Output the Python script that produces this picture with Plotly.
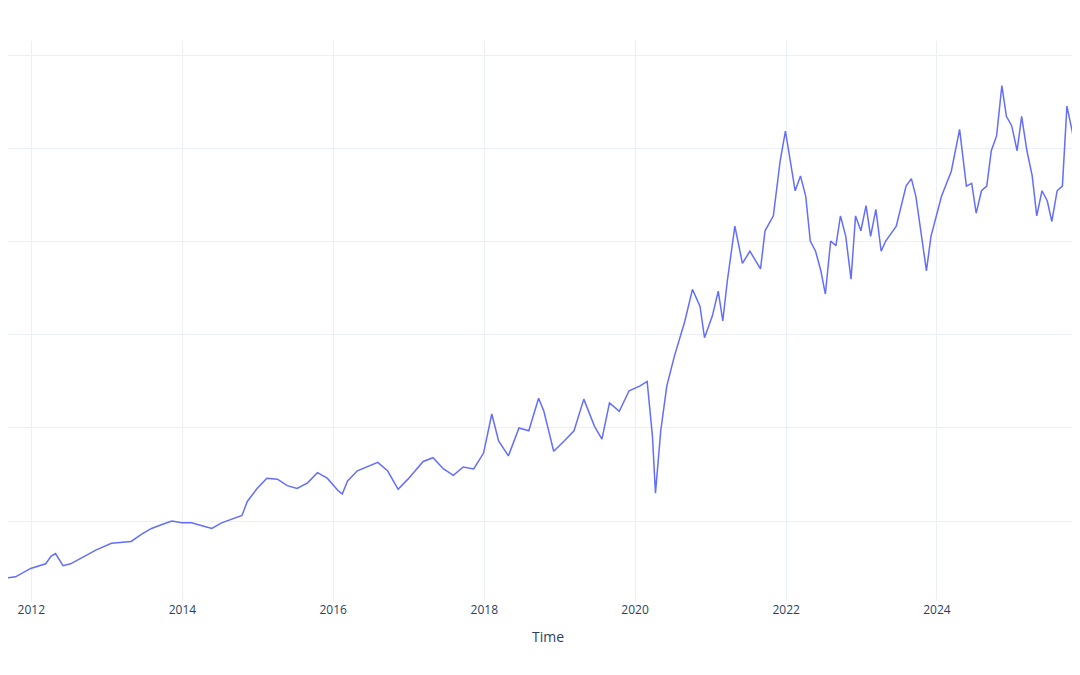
import plotly.graph_objects as go
import pandas as pd

years = [2011.59,2011.79,2011.99,2012.19,2012.26,2012.32,2012.42,2012.52,2012.66,2012.86,
2013.06,2013.19,2013.32,2013.46,2013.59,2013.72,2013.86,2013.99,2014.12,2014.26,
2014.39,2014.52,2014.66,2014.79,2014.86,2014.99,2015.12,2015.26,2015.39,2015.52,
2015.66,2015.79,2015.92,2016.06,2016.12,2016.19,2016.32,2016.46,2016.59,2016.72,
2016.86,2016.99,2017.19,2017.32,2017.46,2017.59,2017.72,2017.86,2017.99,2018.10,
2018.19,2018.32,2018.46,2018.59,2018.72,2018.79,2018.92,2019.06,2019.19,2019.32,
2019.46,2019.56,2019.66,2019.79,2019.92,2020.06,2020.16,2020.23,2020.27,2020.34,
2020.42,2020.52,2020.66,2020.76,2020.86,2020.92,2021.02,2021.10,2021.16,2021.22,
2021.32,2021.42,2021.52,2021.66,2021.72,2021.83,2021.92,2021.99,2022.07,2022.12,
2022.19,2022.26,2022.32,2022.39,2022.46,2022.52,2022.59,2022.66,2022.72,2022.79,
2022.86,2022.92,2022.99,2023.06,2023.12,2023.19,2023.26,2023.32,2023.46,2023.59,
2023.66,2023.72,2023.86,2023.92,2024.06,2024.19,2024.30,2024.39,2024.46,2024.52,
2024.59,2024.66,2024.72,2024.79,2024.86,2024.92,2024.99,2025.06,2025.12,2025.19,
2025.26,2025.32,2025.39,2025.46,2025.52,2025.59,2025.66,2025.72,2025.79,2025.86,
2025.92,2025.96,2025.99]

values = [38,40,49,54,62,65,52,54,60,69,
76,77,78,86,92,96,100,98,98,95,
92,98,102,106,121,135,146,145,138,135,
141,152,146,133,129,143,154,159,163,154,
134,145,164,168,156,149,158,156,173,215,
186,170,200,197,232,218,175,186,197,231,
202,188,227,218,240,245,250,191,130,197,
245,277,315,349,331,297,320,347,315,358,
417,377,390,371,412,428,487,519,482,455,
471,449,401,390,369,344,401,396,428,406,
360,428,412,439,406,435,390,401,417,460,
468,449,369,406,449,476,521,460,463,431,
455,460,498,514,568,535,525,498,535,498,
471,428,455,444,422,455,460,546,519,482,
465,439,492]

assert len(years) == len(values)

def to_date(y):
    yi = int(y)
    start = pd.Timestamp(year=yi, month=1, day=1)
    return start + pd.Timedelta(days=(y - yi) * 365.25)

dates = [to_date(y) for y in years]

fig = go.Figure(go.Scatter(x=dates, y=values, mode="lines",
                           line=dict(color="#636efa", width=1.5)))
fig.update_layout(
    template="plotly_white",
    width=1080, height=675,
    margin=dict(l=0, r=0, t=33, b=82),
    xaxis=dict(title="Time", range=[to_date(2011.69), to_date(2026.0)],
               dtick="M24", tick0="2012-01-01"),
    yaxis=dict(range=[14, 616], dtick=100, showticklabels=False),
    showlegend=False,
)
fig.write_html("out.html")
